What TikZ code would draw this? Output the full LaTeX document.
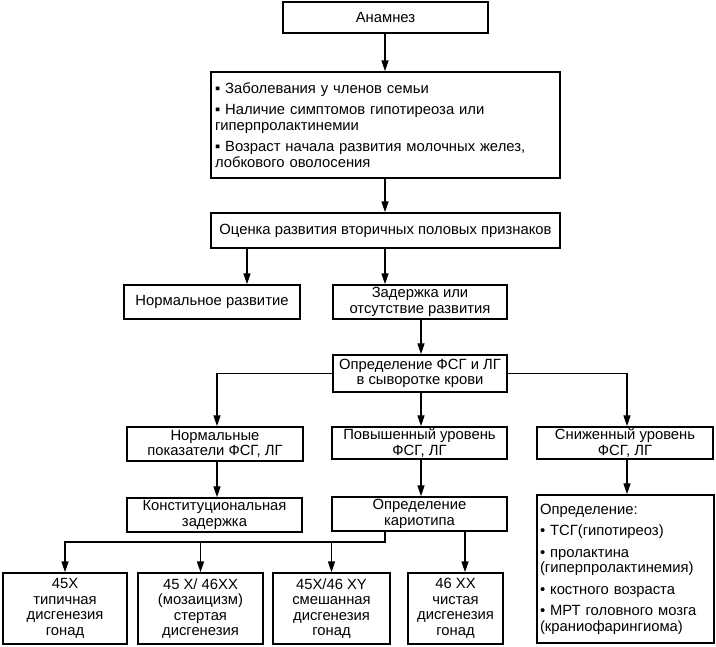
\documentclass[tikz,border=0pt]{standalone}
\usepackage{fontspec}
\setmainfont{Liberation Sans}
\usetikzlibrary{arrows.meta}
\newcommand\fs{\fontsize{14.8}{15.5}\selectfont}
\begin{document}
\begin{tikzpicture}[x=1pt,y=-1pt,
  box/.style={draw, line width=1.4pt, inner sep=0pt, align=center, font=\fs},
  arr/.style={line width=1.4pt, -{Triangle[length=11pt,width=7pt]}},
  ln/.style={line width=1.4pt}]
\useasboundingbox (0,0) rectangle (716,647);

\node[box, minimum width=205pt, minimum height=31pt] (anam) at (385.5,17.5) {Анамнез};
\node[box, minimum width=349pt, minimum height=106pt, text width=341pt, align=left] (hist) at (385.5,125)
 {▪ Заболевания у членов семьи\\[6pt]▪ Наличие симптомов гипотиреоза или\\гиперпролактинемии\\[6pt]▪ Возраст начала развития молочных желез,\\лобкового оволосения};
\node[box, minimum width=349pt, minimum height=35pt] (eval) at (385.5,230.5) {Оценка развития вторичных половых признаков};
\node[box, minimum width=176pt, minimum height=34pt] (norm) at (212,302) {Нормальное развитие};
\node[box, minimum width=174pt, minimum height=34pt] (delay) at (420,302) {Задержка или\\отсутствие развития};
\node[box, minimum width=174pt, minimum height=37pt] (fsh) at (420,373.5) {Определение ФСГ и ЛГ\\в сыворотке крови};
\node[box, minimum width=176pt, minimum height=34pt] (normfsh) at (215,444) {Нормальные\\показатели ФСГ, ЛГ};
\node[box, minimum width=175pt, minimum height=32pt] (high) at (419.5,443) {Повышенный уровень\\ФСГ, ЛГ};
\node[box, minimum width=176pt, minimum height=32pt] (low) at (625,443) {Сниженный уровень\\ФСГ, ЛГ};
\node[box, minimum width=175pt, minimum height=34pt] (const) at (214.5,515) {Конституциональная\\задержка};
\node[box, minimum width=175pt, minimum height=34pt] (karyo) at (419.5,514) {Определение\\кариотипа};
\node[box, minimum width=177pt, minimum height=148pt, text width=171pt, align=left] (det) at (625.5,569)
 {Определение:\\[6pt]• ТСГ(гипотиреоз)\\[6pt]• пролактина\\(гиперпролактинемия)\\[6pt]• костного возраста\\[6pt]• МРТ головного мозга\\(краниофарингиома)};
\node[box, minimum width=124pt, minimum height=71pt] (b1) at (65,608.5) {45X\\типичная\\дисгенезия\\гонад};
\node[box, minimum width=125pt, minimum height=71pt] (b2) at (200.5,608.5) {45 X/ 46XX\\(мозаицизм)\\стертая\\дисгенезия};
\node[box, minimum width=117pt, minimum height=71pt] (b3) at (331.5,608.5) {45X/46 XY\\смешанная\\дисгенезия\\гонад};
\node[box, minimum width=95pt, minimum height=71pt] (b4) at (455.5,608.5) {46 XX\\чистая\\дисгенезия\\гонад};

\coordinate (xc) at (385,0);
\coordinate (xl) at (247,0);
\coordinate (xd) at (421,0);
\coordinate (xn) at (217,0);
\coordinate (xr) at (627,0);
\coordinate (xk) at (385,0);
\coordinate (xx) at (465,0);
\coordinate (j) at (385,542);

\draw[arr] (anam.south -| xc) -- (hist.north -| xc);
\draw[arr] (hist.south -| xc) -- (eval.north -| xc);
\draw[arr] (eval.south -| xl) -- (norm.north -| xl);
\draw[arr] (eval.south -| xc) -- (delay.north -| xc);
\draw[arr] (delay.south -| xd) -- (fsh.north -| xd);
\draw[arr] (fsh.west) -| (normfsh.north -| xn);
\draw[arr] (fsh.east) -| (low.north -| xr);
\draw[arr] (fsh.south -| xd) -- (high.north -| xd);
\draw[arr] (normfsh.south -| xn) -- (const.north -| xn);
\draw[arr] (high.south -| xd) -- (karyo.north -| xd);
\draw[arr] (low.south -| xr) -- (det.north -| xr);
\draw[arr] (karyo.south -| xk) -- (j) -| (b1.north);
\draw[arr] (b2.north |- j) -- (b2.north);
\draw[arr] (b3.north |- j) -- (b3.north);
\draw[arr] (karyo.south -| xx) -- (b4.north -| xx);
\end{tikzpicture}
\end{document}
